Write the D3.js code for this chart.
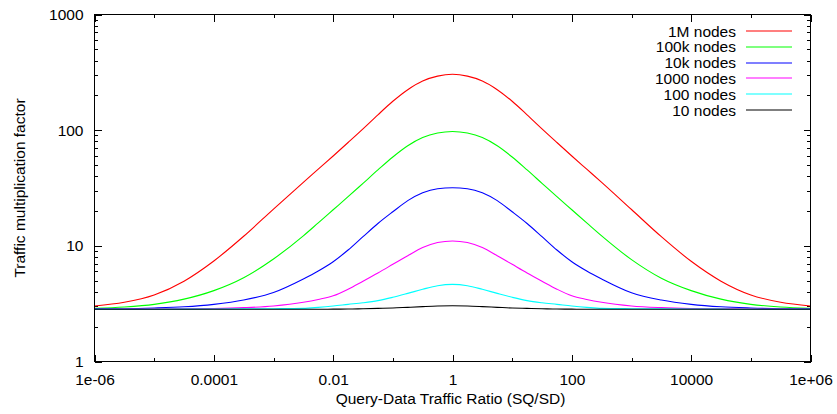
<!DOCTYPE html>
<html>
<head>
<meta charset="utf-8">
<script src="https://cdn.jsdelivr.net/npm/d3@7"></script>
<style>
  body { margin: 0; background: #fff; }
  text { font-family: "Liberation Sans", Arial, Helvetica, sans-serif; fill: #000; }
</style>
</head>
<body>
<svg id="chart" width="837" height="414"></svg>
<script>
// ---------------- data ----------------
const ratios = [1e-6, 3.162e-6, 1e-5, 3.162e-5, 1e-4, 3.162e-4, 1e-3,
                3.162e-3, 5.623e-3, 0.01, 0.01778, 0.03162, 0.05623, 0.1, 0.1778, 0.3162, 0.5623,
                1,
                1.778, 3.162, 5.623, 10, 17.78, 31.62, 56.23, 100, 177.8, 316.2,
                1000, 3162, 1e4, 3.162e4, 1e5, 3.162e5, 1e6];

const nodes1M   = [3.02, 3.25, 3.76, 4.95, 7.4, 12.1, 20.8,
                   35.4, 46.0, 59.8, 78.2, 102.6, 135.8, 177.8, 223.9, 266.1, 293.1,
                   304,
                   293.1, 266.1, 223.9, 177.8, 135.8, 102.6, 78.2, 59.8, 46.0, 35.4,
                   20.6, 12.0, 7.35, 4.95, 3.76, 3.25, 3.02];
const nodes100k = [2.88, 2.96, 3.12, 3.46, 4.1, 5.3, 7.7,
                   12.2, 15.8, 20.5, 26.6, 34.7, 45.3, 58.6, 73.3, 86.3, 94.4,
                   97.3,
                   94.4, 86.3, 73.3, 58.6, 45.3, 34.7, 26.6, 20.5, 15.8, 12.2,
                   7.6, 5.25, 4.1, 3.46, 3.12, 2.96, 2.88];
const nodes10k  = [2.85, 2.86, 2.9, 2.97, 3.12, 3.4, 3.95,
                   5.17, 6.06, 7.29, 9.2, 12.0, 15.6, 19.7, 24.6, 28.8, 31.2,
                   31.8,
                   31.2, 28.8, 24.6, 19.7, 15.6, 12.0, 9.2, 7.29, 6.06, 5.17,
                   3.93, 3.4, 3.12, 2.97, 2.9, 2.86, 2.85];
const nodes1000 = [2.83, 2.835, 2.84, 2.85, 2.87, 2.92, 3.02,
                   3.25, 3.44, 3.70, 4.22, 4.95, 5.83, 6.92, 8.22, 9.66, 10.67,
                   11.0,
                   10.67, 9.66, 8.22, 6.92, 5.83, 4.95, 4.22, 3.70, 3.44, 3.25,
                   3.02, 2.92, 2.87, 2.85, 2.84, 2.835, 2.83];
const nodes100  = [2.83, 2.83, 2.83, 2.835, 2.84, 2.85, 2.86,
                   2.88, 2.94, 3.02, 3.12, 3.22, 3.36, 3.59, 3.88, 4.21, 4.52,
                   4.64,
                   4.52, 4.21, 3.88, 3.59, 3.36, 3.22, 3.12, 3.02, 2.94, 2.88,
                   2.86, 2.85, 2.84, 2.835, 2.83, 2.83, 2.83];
const nodes10   = [2.83, 2.83, 2.83, 2.83, 2.83, 2.83, 2.83,
                   2.83, 2.83, 2.835, 2.84, 2.86, 2.88, 2.9, 2.94, 2.98, 3.015,
                   3.03,
                   3.015, 2.98, 2.94, 2.9, 2.88, 2.86, 2.84, 2.835, 2.83, 2.83,
                   2.83, 2.83, 2.83, 2.83, 2.83, 2.83, 2.83];

const seriesNames = ["1M nodes", "100k nodes", "10k nodes", "1000 nodes", "100 nodes", "10 nodes"];
const seriesValues = [nodes1M, nodes100k, nodes10k, nodes1000, nodes100, nodes10];
const seriesColors = ["#ff0000", "#00ff00", "#0000ff", "#ff00ff", "#00ffff", "#000000"];

const xMajorTicks = [1e-6, 1e-4, 0.01, 1, 100, 1e4, 1e6];
const xTickLabels = ["1e-06", "0.0001", "0.01", "1", "100", "10000", "1e+06"];
const xMinorTicks = [1e-5, 1e-3, 0.1, 10, 1000, 1e5];
const yMajorTicks = [1, 10, 100, 1000];
const yTickLabels = ["1", "10", "100", "1000"];

const xTitle = "Query-Data Traffic Ratio (SQ/SD)";
const yTitle = "Traffic multiplication factor";

// ---------------- layout ----------------
const L = 94.5, R = 810.5, T = 14.5, B = 361.5;
const FS = "15.5px";
const majorLen = 7, minorLen = 3.5;

const svg = d3.select("#chart");
const x = d3.scaleLog().domain([1e-6, 1e6]).range([L, R]);
const y = d3.scaleLog().domain([1, 1000]).range([B, T]);

const yMinorTicks = [];
[1, 10, 100].forEach(d => { for (let k = 2; k <= 9; k++) yMinorTicks.push(d * k); });

function styleAxis(g) {
  g.select(".domain").remove();
  g.selectAll(".tick line").attr("stroke", "#000").attr("stroke-width", 1).attr("shape-rendering", "crispEdges");
  g.selectAll(".tick text").style("font-size", FS).attr("fill", "#000");
}

// bottom major (labelled)
svg.append("g").attr("transform", `translate(0,${B})`)
  .call(d3.axisBottom(x).tickValues(xMajorTicks).tickSize(-majorLen).tickPadding(13)
        .tickFormat((d, i) => xTickLabels[i]))
  .call(styleAxis)
  .call(g => g.selectAll(".tick text").attr("dy", null).attr("y", 23.5));
// bottom minor
svg.append("g").attr("transform", `translate(0,${B})`)
  .call(d3.axisBottom(x).tickValues(xMinorTicks).tickSize(-minorLen).tickFormat(""))
  .call(styleAxis);
// top (mirror)
svg.append("g").attr("transform", `translate(0,${T})`)
  .call(d3.axisTop(x).tickValues(xMajorTicks).tickSize(-majorLen).tickFormat(""))
  .call(styleAxis);
svg.append("g").attr("transform", `translate(0,${T})`)
  .call(d3.axisTop(x).tickValues(xMinorTicks).tickSize(-minorLen).tickFormat(""))
  .call(styleAxis);
// left major (labelled)
svg.append("g").attr("transform", `translate(${L},0)`)
  .call(d3.axisLeft(y).tickValues(yMajorTicks).tickSize(-majorLen).tickPadding(11)
        .tickFormat((d, i) => yTickLabels[i]))
  .call(styleAxis);
svg.append("g").attr("transform", `translate(${L},0)`)
  .call(d3.axisLeft(y).tickValues(yMinorTicks).tickSize(-minorLen).tickFormat(""))
  .call(styleAxis);
// right (mirror)
svg.append("g").attr("transform", `translate(${R},0)`)
  .call(d3.axisRight(y).tickValues(yMajorTicks).tickSize(-majorLen).tickFormat(""))
  .call(styleAxis);
svg.append("g").attr("transform", `translate(${R},0)`)
  .call(d3.axisRight(y).tickValues(yMinorTicks).tickSize(-minorLen).tickFormat(""))
  .call(styleAxis);

// curves
svg.append("defs").append("clipPath").attr("id", "clip")
  .append("rect").attr("x", L).attr("y", T).attr("width", R - L).attr("height", B - T);

const line = d3.line()
  .x(d => x(d[0]))
  .y(d => y(d[1]))
  .curve(d3.curveMonotoneX);

const curves = svg.append("g").attr("clip-path", "url(#clip)");
seriesValues.forEach((vals, i) => {
  curves.append("path")
    .datum(ratios.map((r, j) => [r, vals[j]]))
    .attr("fill", "none")
    .attr("stroke", seriesColors[i])
    .attr("stroke-width", 1.1)
    .attr("d", line);
});

// border
svg.append("rect")
  .attr("x", L).attr("y", T).attr("width", R - L).attr("height", B - T)
  .attr("fill", "none").attr("stroke", "#000").attr("stroke-width", 1)
  .attr("shape-rendering", "crispEdges");

// legend
const legY0 = 31, legDY = 15.8, legTextX = 736, legLineX1 = 746, legLineX2 = 792;
seriesNames.forEach((name, i) => {
  const yy = legY0 + i * legDY;
  svg.append("text").attr("x", legTextX).attr("y", yy).attr("dy", "0.36em")
    .attr("text-anchor", "end").style("font-size", FS).text(name);
  svg.append("line").attr("x1", legLineX1).attr("x2", legLineX2)
    .attr("y1", Math.round(yy)).attr("y2", Math.round(yy))
    .attr("stroke", seriesColors[i]).attr("stroke-width", 1.1);
});

// axis titles
svg.append("text").attr("x", (L + R) / 2 - 2).attr("y", 403.5)
  .attr("text-anchor", "middle").style("font-size", FS).text(xTitle);
svg.append("text").attr("transform", `translate(25,${(T + B) / 2}) rotate(-90)`)
  .attr("text-anchor", "middle").style("font-size", FS).text(yTitle);
</script>
</body>
</html>
